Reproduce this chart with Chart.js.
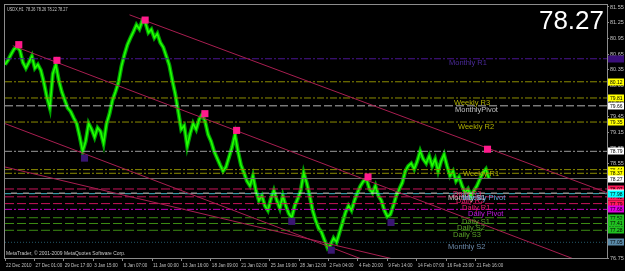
<!DOCTYPE html>
<html><head><meta charset="utf-8">
<script src="https://cdn.jsdelivr.net/npm/chart.js@4.4.1/dist/chart.umd.min.js"></script>
<style>html,body{margin:0;padding:0;background:#000;overflow:hidden}canvas{display:block}</style>
</head><body>
<canvas id="c" width="625" height="271" style="width:625px;height:271px"></canvas>
<script>
// ---------------- DATA ----------------
const symbolTitle = "USDX,H1";
const lastOHLC = [78.26, 78.26, 78.22, 78.27];
const copyrightText = "MetaTrader, \u00A9 2001-2009 MetaQuotes Software Corp.";
const xTickLabels = ["22 Dec 2010","27 Dec 01:00","29 Dec 17:00","3 Jan 15:00","6 Jan 07:00","11 Jan 00:00",
  "13 Jan 16:00","18 Jan 09:00","21 Jan 02:00","25 Jan 19:00","28 Jan 12:00","2 Feb 04:00","4 Feb 20:00",
  "9 Feb 14:00","14 Feb 07:00","16 Feb 23:00","21 Feb 16:00"];
const yTickValues = [76.75,77.05,77.35,77.65,77.95,78.25,78.55,78.85,79.15,79.45,79.75,80.05,80.35,80.65,80.95,81.25,81.55];
// closes sampled every few H1 bars
const closes = [80.45,80.53,80.64,80.74,80.79,80.72,80.49,80.38,80.49,80.61,80.38,80.45,80.34,80.11,79.83,79.62,
  80.27,80.45,80.15,79.93,79.77,79.62,79.55,79.43,79.32,79.07,78.79,78.98,79.32,79.21,79.06,79.24,79.17,78.94,
  79.32,79.51,79.77,79.93,80.11,80.42,80.64,80.83,80.96,81.08,81.21,81.13,81.29,81.25,81.06,81.12,80.96,81.04,
  80.87,80.78,80.61,80.44,80.15,79.89,79.55,79.21,79.28,78.89,79.13,79.32,79.21,79.40,79.49,79.36,79.11,78.98,
  78.79,78.66,78.53,78.41,78.49,78.68,78.87,79.11,78.79,78.53,78.38,78.22,78.13,78.32,78.04,77.85,77.94,77.75,
  77.66,77.88,78.04,77.85,77.70,77.94,77.75,77.60,77.52,77.75,77.88,78.04,78.38,78.19,77.94,77.66,77.47,77.32,
  77.24,77.09,76.94,77.00,77.13,77.05,77.24,77.43,77.62,77.75,77.66,77.85,78.00,78.13,78.22,78.26,78.07,78.00,
  78.13,77.94,77.85,77.66,77.54,77.58,77.75,77.94,78.07,78.19,78.41,78.51,78.56,78.45,78.60,78.79,78.64,78.56,
  78.70,78.51,78.64,78.41,78.60,78.73,78.51,78.32,78.41,78.22,78.30,78.13,78.00,78.07,77.92,78.04,78.13,78.26,
  78.38,78.45,78.27];
const peakBars   = [30, 113, 305, 435, 504, 790, 1050];
const peakPrices = [80.83, 80.53, 81.30, 79.51, 79.19, 78.30, 78.83];
const troughBars   = [173, 624, 710, 840];
const troughPrices = [78.66, 77.45, 76.90, 77.43];
const trendStartBars   = [271, 17, 0, 0];
const trendStartPrices = [81.40, 80.81, 79.32, 78.49];
const trendEndBars     = [1310, 1310, 905, 927];
const trendEndPrices   = [78.00, 76.49, 76.30, 76.56];
const levelNames  = ["Monthly R1", null, "Weekly R3", "MonthlyPivot", "Weekly R2", null, "Weekly R1", null,
  "Daily R3", "Daily R2", "Monthly S1", "Weekly Pivot", "Daily R1", "Daily Pivot", "Daily S1", "Daily S2", "Daily S3", "Monthly S2"];
const levelValues = [80.56, 80.12, 79.81, 79.66, 79.35, 78.79, 78.44, 78.37,
  78.07, 77.92, 77.99, 77.98, 77.79, 77.68, 77.52, 77.41, 77.28, 77.05];

// ---------------- LAYOUT / STYLE ----------------
const BARS_PER_SAMPLE = 6.5, BARS_PER_TICK = 64, X_MAX = 1310;
const Y_MIN = 76.75, Y_MAX = 81.588;
const FONT = "'Liberation Sans',Arial,sans-serif";
const DD = [7,2,2,2], DASH = [9,3];
const YEL = {line:'#8c8c00', dash:DD, text:'#b0b000', box:'#ffff00'};
const PNK = {line:'#c8145a', dash:DASH, text:'#e0206a', box:'#ff1a5a'};
const GRN = {line:'#3c8c14', dash:DASH, text:'#5aa028', box:'#20c020'};
const levelStyles = [
  {line:'#4a1590', dash:DD, text:'#4b2a9a', box:'#3a0f7a', boxText:'#3a0f7a', tx:449},
  {...YEL},
  {...YEL, tx:454},
  {line:'#b4b4b4', dash:[8,3], text:'#c0c0c0', box:'#ffffff', tx:455},
  {...YEL, tx:458},
  {line:'#9a9a9a', dash:DD, text:'#c0c0c0', box:'#ffffff'},
  {...YEL, tx:463},
  {...YEL},
  {...PNK, tx:453},
  {...PNK, tx:456},
  {line:'#d8d8d8', dash:[6,6], off:6, text:'#c8c8c8', box:'#ffffff', tx:448},
  {line:'#40b8c8', dash:[6,6], text:'#5aa8d8', box:'#00ffff', tx:462},
  {...PNK, tx:462},
  {line:'#c000c0', dash:DD, text:'#c018e0', box:'#e000e0', tx:468},
  {...GRN, tx:462},
  {...GRN, tx:457},
  {...GRN, tx:453},
  {line:'#24586a', dash:[1,2], text:'#6a88a8', box:'#5a8aa8', tx:448},
];

Chart.defaults.font.family = FONT;

const datasets = [];
datasets.push({data: peakBars.map((b,i)=>({x:b, y:peakPrices[i]})), showLine:false, pointStyle:'rect',
  pointRadius:5, pointBackgroundColor:'#ff1a8c', pointBorderWidth:0, order:0});
datasets.push({data: troughBars.map((b,i)=>({x:b, y:troughPrices[i]})), showLine:false, pointStyle:'rect',
  pointRadius:5, pointBackgroundColor:'#3a1672', pointBorderWidth:0, order:0});
trendStartBars.forEach((b,i)=>datasets.push({data:[{x:b,y:trendStartPrices[i]},{x:trendEndBars[i],y:trendEndPrices[i]}],
  borderColor:'#a81e50', borderWidth:1, pointRadius:0, order:1}));
levelValues.forEach((v,i)=>{ const s = levelStyles[i];
  datasets.push({data:[{x:0,y:v},{x:X_MAX,y:v}], borderColor:s.line, borderWidth:1, borderDash:s.dash,
    borderDashOffset:s.off||0, pointRadius:0, order:2}); });
const bid = closes[closes.length-1];
datasets.push({data:[{x:0,y:bid},{x:X_MAX,y:bid}], borderColor:'#6e6e6e', borderWidth:1, pointRadius:0, order:2});
const pricePts = closes.map((c,i)=>({x:i*BARS_PER_SAMPLE, y:c}));
datasets.push({data:pricePts, borderColor:'#00a000', borderWidth:4, pointRadius:0, tension:0, order:4});
datasets.push({data:pricePts, borderColor:'#22ff00', borderWidth:1.6, pointRadius:0, tension:0, order:3});

function condensedText(ctx, text, x, y, sx){
  ctx.save(); ctx.translate(x, y); ctx.scale(sx, 1); ctx.fillText(text, 0, 0); ctx.restore();
}

const overlay = {
  id:'overlay',
  afterDatasetsDraw(chart){
    const ctx = chart.ctx, ys = chart.scales.y;
    ctx.save();
    ctx.font = "7.5px " + FONT;
    ctx.textBaseline = 'middle'; ctx.textAlign = 'left';
    levelNames.forEach((n,i)=>{ if(!n) return; const s = levelStyles[i];
      ctx.fillStyle = s.text; ctx.fillText(n, s.tx, ys.getPixelForValue(levelValues[i]) + 4.5); });
    ctx.restore();
  },
  afterDraw(chart){
    const ctx = chart.ctx, a = chart.chartArea, ys = chart.scales.y, xs = chart.scales.x;
    ctx.save();
    ctx.strokeStyle = '#8c8c8c'; ctx.lineWidth = 1;
    ctx.strokeRect(a.left-0.5, a.top-0.5, a.right-a.left+1, a.bottom-a.top+1);
    // x tick labels (narrow terminal font)
    ctx.fillStyle = '#c0c0c0'; ctx.font = "5.5px " + FONT; ctx.textBaseline='middle'; ctx.textAlign='left';
    xTickLabels.forEach((t,i)=>condensedText(ctx, t, xs.getPixelForValue(i*BARS_PER_TICK)+1, a.bottom+7, 0.82));
    // price boxes on axis
    ctx.font = "5px " + FONT;
    const drawBox = (v, fill, tcol) => { const y = Math.round(ys.getPixelForValue(v));
      ctx.fillStyle = fill; ctx.fillRect(a.right+1, y-3.5, 16, 7);
      ctx.fillStyle = tcol || '#000'; ctx.fillText(v.toFixed(2), a.right+3, y+0.5); };
    levelValues.forEach((v,i)=>drawBox(v, levelStyles[i].box, levelStyles[i].boxText));
    drawBox(bid, '#ffffff');
    // header + footer texts
    ctx.fillStyle = '#c8c8c8'; ctx.font = "5.5px " + FONT;
    condensedText(ctx, symbolTitle + "  " + lastOHLC.map(v=>v.toFixed(2)).join(" "), a.left+2, a.top+4, 0.7);
    condensedText(ctx, copyrightText, a.left+1, a.bottom-5, 0.9);
    ctx.fillStyle = '#ffffff'; ctx.font = "26px " + FONT;
    ctx.textAlign='right'; ctx.textBaseline='alphabetic';
    ctx.fillText(bid.toFixed(2), a.right-3, 29);
    ctx.restore();
  }
};

new Chart(document.getElementById('c'), {
  type:'line',
  data:{datasets},
  plugins:[overlay],
  options:{
    responsive:false, animation:false, devicePixelRatio:1,
    layout:{padding:{left:2, top:2, right:0, bottom:0}},
    plugins:{legend:{display:false}, tooltip:{enabled:false}},
    scales:{
      x:{type:'linear', min:0, max:X_MAX, position:'bottom',
        afterBuildTicks:s=>{ s.ticks = xTickLabels.map((_,i)=>({value:i*BARS_PER_TICK})); },
        afterFit:s=>{ s.height = 13; },
        ticks:{autoSkip:false, maxRotation:0, display:false},
        grid:{drawOnChartArea:false, drawTicks:true, tickLength:3, color:'#8c8c8c'},
        border:{color:'#8c8c8c'}},
      y:{position:'right', min:Y_MIN, max:Y_MAX,
        afterBuildTicks:s=>{ s.ticks = yTickValues.map(v=>({value:v})); },
        afterFit:s=>{ s.width = 18; },
        ticks:{padding:1, color:'#c0c0c0', font:{size:5.5}, callback:v=>v.toFixed(2)},
        grid:{drawOnChartArea:false, tickLength:2, color:'#8c8c8c'},
        border:{color:'#8c8c8c'}}
    }
  }
});
</script>
</body></html>
